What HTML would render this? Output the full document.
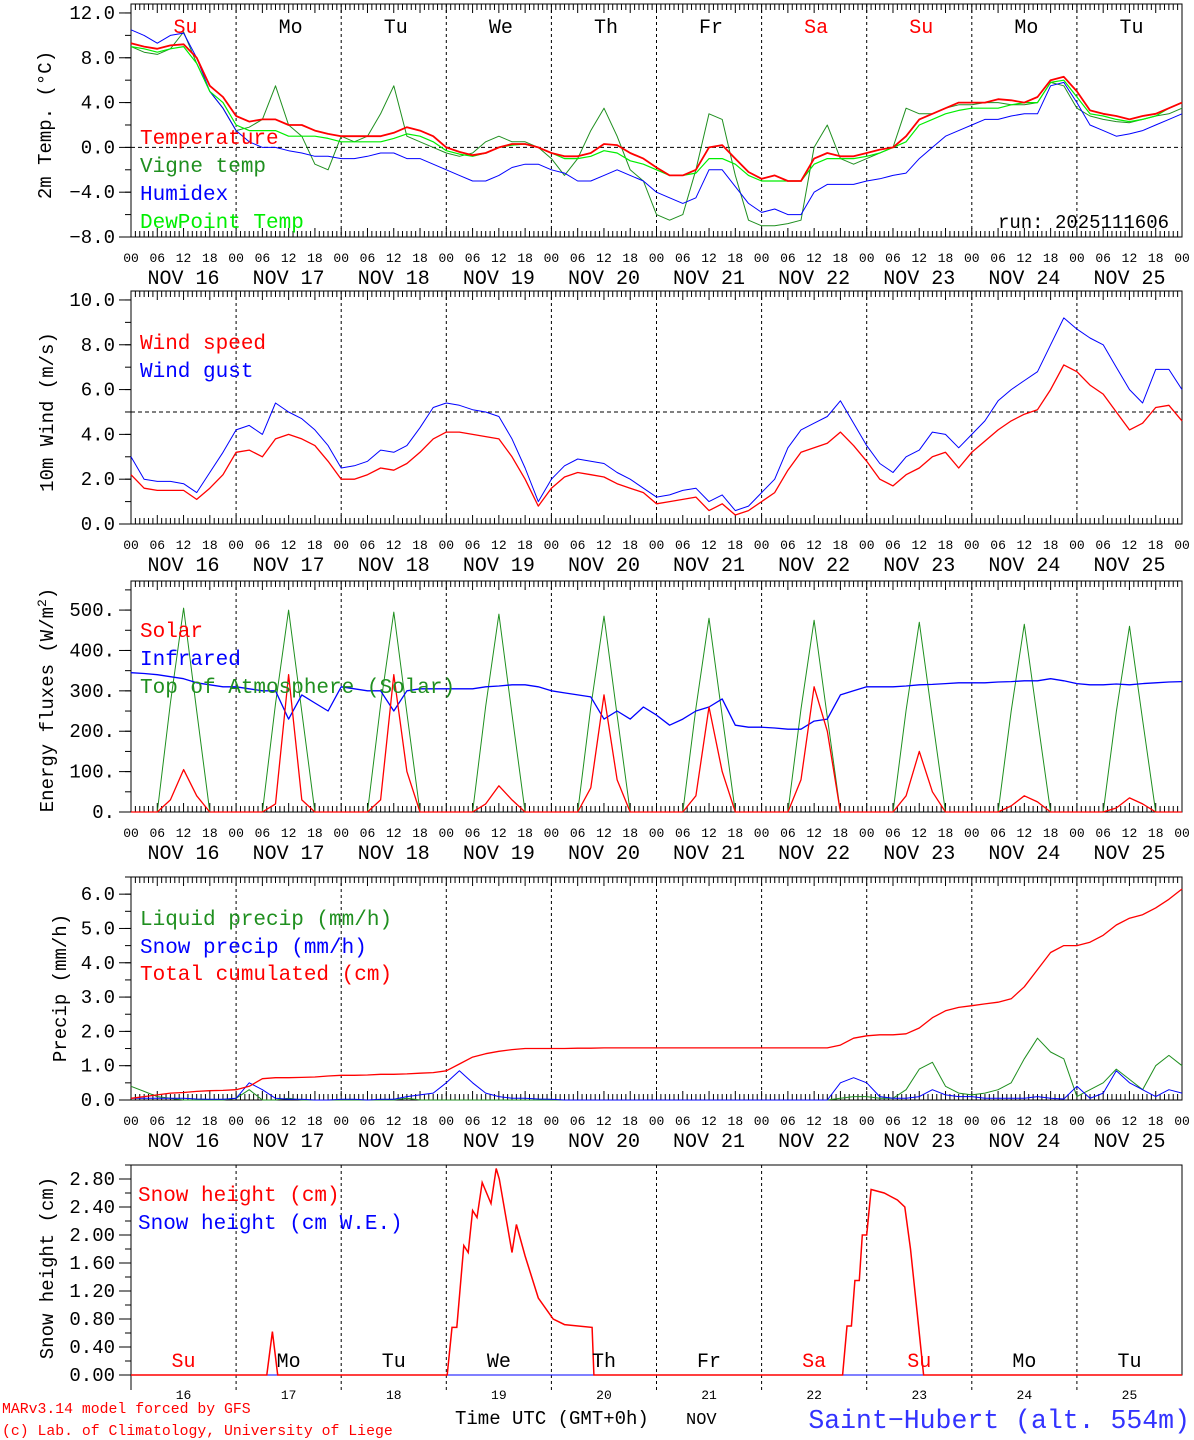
<!DOCTYPE html>
<html><head><meta charset="utf-8"><style>
html,body{margin:0;padding:0;background:#fff}
svg{display:block;font-family:"Liberation Mono","DejaVu Sans Mono",monospace}
</style></head><body>
<svg id="chart" width="1194" height="1440" viewBox="0 0 1194 1440" xmlns="http://www.w3.org/2000/svg"></svg>
<script>
// ---- data (3-hourly, 81 points from Nov 16 00UTC to Nov 26 00UTC) ----
const dayNames=["Su","Mo","Tu","We","Th","Fr","Sa","Su","Mo","Tu"];
const dayNums=["16","17","18","19","20","21","22","23","24","25"];
const hourLabels=["00","06","12","18"];
const temperature=[9.3,9.0,8.8,9.1,9.2,8.0,5.5,4.5, 2.8,2.3,2.5,2.5,2.0,2.0,1.5,1.2, 1.0,1.0,1.0,1.0,1.3,1.8,1.5,1.0, 0.0,-0.4,-0.7,-0.5,0.0,0.3,0.3,0.0, -0.5,-0.8,-0.8,-0.5,0.3,0.2,-0.5,-1.0, -1.8,-2.5,-2.5,-2.0,0.0,0.2,-1.0,-2.2, -2.8,-2.5,-3.0,-3.0,-1.0,-0.5,-0.8,-0.8, -0.5,-0.2,0.0,1.0,2.5,3.0,3.5,4.0, 4.0,4.0,4.3,4.2,4.0,4.5,6.0,6.3, 5.0,3.3,3.0,2.8,2.5,2.8,3.0,3.5, 4.0];
const vigneTemp=[9.0,8.5,8.3,8.8,10.3,7.5,5.0,3.5, 1.5,1.8,2.5,5.5,2.0,1.0,-1.5,-2.0, 1.0,0.5,1.0,3.0,5.5,1.0,0.5,0.0, -0.5,-0.8,-0.5,0.5,1.0,0.5,0.5,0.0, -1.0,-2.5,-1.0,1.5,3.5,1.0,-2.0,-3.0, -6.0,-6.5,-6.0,-2.0,3.0,2.5,-2.5,-6.5, -7.0,-7.0,-6.8,-6.5,0.0,2.0,-1.0,-1.5, -1.0,-0.5,0.0,3.5,3.0,3.0,3.5,3.8, 3.8,4.0,4.0,3.8,3.8,4.0,5.8,5.5, 3.5,2.8,2.5,2.3,2.2,2.5,2.8,3.0, 3.5];
const humidex=[10.5,10.0,9.3,10.0,10.2,8.0,5.0,3.5, 1.5,0.5,0.0,0.0,-0.3,-0.5,-0.8,-0.8, -1.0,-1.0,-0.8,-0.5,-0.5,-1.0,-1.0,-1.5, -2.0,-2.5,-3.0,-3.0,-2.5,-1.8,-1.5,-1.5, -2.0,-2.3,-3.0,-3.0,-2.5,-2.0,-2.5,-3.0, -4.0,-4.5,-5.0,-4.5,-2.0,-2.0,-3.5,-5.0, -5.8,-5.5,-6.0,-6.0,-4.0,-3.3,-3.3,-3.3, -3.0,-2.8,-2.5,-2.3,-1.0,0.0,1.0,1.5, 2.0,2.5,2.5,2.8,3.0,3.0,5.5,5.8, 4.0,2.0,1.5,1.0,1.2,1.5,2.0,2.5, 3.0];
const dewPoint=[9.0,8.8,8.5,8.8,9.0,7.5,5.0,4.0, 2.0,1.5,1.5,1.5,1.0,1.0,1.0,0.8, 0.5,0.5,0.5,0.5,0.8,1.2,1.0,0.5, -0.3,-0.6,-0.8,-0.5,0.0,0.2,0.3,0.0, -0.5,-1.0,-1.0,-0.8,-0.3,-0.5,-1.2,-1.5, -2.0,-2.5,-2.5,-2.3,-1.0,-1.0,-1.5,-2.5, -3.0,-3.0,-3.0,-3.0,-1.5,-1.0,-1.0,-1.0, -0.8,-0.5,0.0,0.5,2.0,2.5,3.0,3.3, 3.5,3.5,3.5,3.8,4.0,4.0,5.8,6.0, 4.5,3.0,2.8,2.5,2.3,2.5,2.8,3.5, 4.0];
const windSpeed=[2.2,1.6,1.5,1.5,1.5,1.1,1.6,2.2, 3.2,3.3,3.0,3.8,4.0,3.8,3.5,2.8, 2.0,2.0,2.2,2.5,2.4,2.7,3.2,3.8, 4.1,4.1,4.0,3.9,3.8,3.0,2.0,0.8, 1.6,2.1,2.3,2.2,2.1,1.8,1.6,1.4, 0.9,1.0,1.1,1.2,0.6,0.9,0.4,0.6, 1.0,1.4,2.4,3.2,3.4,3.6,4.1,3.5, 2.8,2.0,1.7,2.2,2.5,3.0,3.2,2.5, 3.2,3.7,4.2,4.6,4.9,5.1,6.0,7.1, 6.8,6.2,5.8,5.0,4.2,4.5,5.2,5.3, 4.6];
const windGust=[3.0,2.0,1.9,1.9,1.8,1.4,2.3,3.2, 4.2,4.4,4.0,5.4,5.0,4.7,4.2,3.5, 2.5,2.6,2.8,3.3,3.2,3.5,4.3,5.2, 5.4,5.3,5.1,5.0,4.8,3.8,2.5,1.0, 2.0,2.6,2.9,2.8,2.7,2.3,2.0,1.6, 1.2,1.3,1.5,1.6,1.0,1.3,0.6,0.8, 1.4,2.0,3.4,4.2,4.5,4.8,5.5,4.5, 3.5,2.7,2.3,3.0,3.3,4.1,4.0,3.4, 4.0,4.6,5.5,6.0,6.4,6.8,8.0,9.2, 8.7,8.3,8.0,7.0,6.0,5.4,6.9,6.9, 6.0];
const solar=[0,0,0,30,105,40,0,0, 0,0,0,20,340,30,0,0, 0,0,0,30,340,100,0,0, 0,0,0,20,65,30,0,0, 0,0,0,60,290,80,0,0, 0,0,0,40,260,100,0,0, 0,0,0,80,310,200,0,0, 0,0,0,40,150,50,0,0, 0,0,0,15,40,25,0,0, 0,0,0,10,35,20,0,0, 0];
const infrared=[345,343,340,335,330,320,315,310, 310,305,300,300,230,290,270,250, 310,305,300,300,250,300,305,305, 305,305,305,310,312,315,315,310, 300,295,290,285,230,250,230,260, 240,215,230,250,260,280,215,210, 210,208,205,205,225,230,290,300, 310,310,310,312,315,316,318,320, 320,320,322,323,325,325,330,325, 318,315,315,317,315,318,320,322, 323];
const toaSolar=[0,0,0,270,505,250,0,0, 0,0,0,268,500,248,0,0, 0,0,0,265,495,245,0,0, 0,0,0,262,490,242,0,0, 0,0,0,260,485,240,0,0, 0,0,0,257,480,238,0,0, 0,0,0,255,475,235,0,0, 0,0,0,252,470,232,0,0, 0,0,0,250,465,230,0,0, 0,0,0,248,460,228,0,0, 0];
const liquidPrecip=[0.4,0.25,0.1,0.05,0,0,0,0, 0.05,0.3,0,0,0.05,0,0,0, 0,0,0,0,0,0.05,0,0, 0,0,0,0,0,0,0,0, 0,0,0,0,0,0,0,0, 0,0,0,0,0,0,0,0, 0,0,0,0,0,0,0.05,0.1, 0.1,0.05,0.05,0.3,0.9,1.1,0.4,0.2, 0.15,0.2,0.3,0.5,1.2,1.8,1.4,1.2, 0.1,0.3,0.5,0.9,0.6,0.3,1.0,1.3, 1.0];
const snowPrecip=[0.05,0.05,0.05,0.05,0.05,0.03,0.02,0.02, 0.05,0.5,0.3,0.05,0.02,0.02,0,0, 0.02,0.02,0,0.02,0.02,0.1,0.15,0.2, 0.5,0.85,0.5,0.2,0.1,0.05,0.05,0.03, 0.02,0,0,0,0,0,0,0, 0,0,0,0,0,0,0,0, 0,0,0,0,0,0,0.5,0.65, 0.5,0.1,0.05,0.05,0.1,0.3,0.15,0.1, 0.1,0.05,0.05,0.05,0.05,0.1,0.05,0.03, 0.4,0.05,0.2,0.85,0.5,0.3,0.1,0.3, 0.2];
const totalCumul=[0.05,0.1,0.15,0.2,0.22,0.25,0.27,0.28, 0.3,0.4,0.62,0.65,0.65,0.66,0.67,0.7, 0.72,0.72,0.73,0.75,0.75,0.76,0.78,0.8, 0.85,1.05,1.25,1.35,1.42,1.47,1.5,1.5, 1.5,1.5,1.51,1.51,1.52,1.52,1.52,1.52, 1.52,1.52,1.52,1.52,1.52,1.52,1.52,1.52, 1.52,1.52,1.52,1.52,1.52,1.52,1.6,1.8, 1.87,1.9,1.9,1.93,2.1,2.4,2.6,2.7, 2.75,2.8,2.85,2.95,3.3,3.8,4.3,4.5, 4.5,4.6,4.8,5.1,5.3,5.4,5.6,5.85, 6.15];
const snowTimes=[0,31,32.3,33.5,72.2,73.3,74.4,76,77,78,79,80.2,82.2,83.4,84.1,87,88,90,93,96.4,99,105.3,105.7,162.5,163.5,164.5,165.3,166.3,167,168,169,172,175,176.7,178,179.5,181,240];
const snowHeight=[0,0,0.62,0,0,0.68,0.68,1.85,1.75,2.35,2.25,2.75,2.45,2.95,2.8,1.75,2.15,1.7,1.1,0.8,0.72,0.68,0,0,0.7,0.7,1.35,1.35,2.0,2.0,2.65,2.6,2.5,2.4,1.8,0.9,0,0];
const p1Ticks=[12,8,4,0,-4,-8], p1TickLabels=["12.0","8.0","4.0","0.0","\u22124.0","\u22128.0"];
const p2Ticks=[10,8,6,4,2,0], p2TickLabels=["10.0","8.0","6.0","4.0","2.0","0.0"];
const p3Ticks=[500,400,300,200,100,0], p3TickLabels=["500.","400.","300.","200.","100.","0."];
const p4Ticks=[6,5,4,3,2,1,0], p4TickLabels=["6.0","5.0","4.0","3.0","2.0","1.0","0.0"];
const p5Ticks=[2.8,2.4,2.0,1.6,1.2,0.8,0.4,0], p5TickLabels=["2.80","2.40","2.00","1.60","1.20","0.80","0.40","0.00"];

// ---- drawing ----
const NS="http://www.w3.org/2000/svg";
const svg=document.getElementById('chart');
const X0=131,X1=1182;
function xT(t){return X0+t*(X1-X0)/240;}
function el(tag,attrs,parent){const e=document.createElementNS(NS,tag);for(const k in attrs)e.setAttribute(k,attrs[k]);(parent||svg).appendChild(e);return e;}
function txt(s,x,y,size,color,anchor,parent){const e=el('text',{x:x,y:y,'font-size':size,fill:color||'#000','text-anchor':anchor||'start'},parent);e.textContent=s;return e;}

function panel(name,top,bottom,vmin,vmax,ticks,labels,minorStep,showHours){
  const g=el('g',{});
  
  
  const yv=v=>bottom-(v-vmin)*(bottom-top)/(vmax-vmin);
  const fr=el('rect',{x:X0,y:top,width:X1-X0,height:bottom-top,fill:'none',stroke:'#000','stroke-width':1},g);
  
  
  for(let d=1;d<10;d++){const l=el('line',{x1:xT(d*24),x2:xT(d*24),y1:top,y2:bottom,stroke:'#000','stroke-dasharray':'3,3','stroke-width':1},g);
    
    }
  if(showHours){for(let h=0;h<=240;h++){const len=(h%6===0)?9:6;const x=xT(h);
    el('line',{x1:x,x2:x,y1:top,y2:top+len,stroke:'#000','stroke-width':1},g);
    el('line',{x1:x,x2:x,y1:bottom,y2:bottom-len,stroke:'#000','stroke-width':1},g);}}
  const yax=el('g',{},g);
  
  
  for(let v=vmin;v<=vmax+1e-9;v+=minorStep){const y=yv(v);el('line',{x1:X0-6,x2:X0,y1:y,y2:y,stroke:'#000'},yax);}
  ticks.forEach((v,i)=>{const y=yv(v);el('line',{x1:X0-12,x2:X0,y1:y,y2:y,stroke:'#000'},yax);
    const t=txt(labels[i],X0-16,y+6,19,'#000','end',yax);
    
    });
  if(showHours){
    const xa=el('g',{},g);
    
    
    for(let h=0;h<=240;h+=6){txt(hourLabels[(h/6)%4],xT(h),bottom+25,13,'#000','middle',xa);}
    for(let d=0;d<10;d++){txt('NOV '+dayNums[d],xT(d*24+12),bottom+47,20,'#000','middle',xa);}
  }
  return {g:g,yv:yv};
}
function series(p,vals,color,name,w){
  const pts=vals.map((v,i)=>xT(i*3).toFixed(1)+','+p.yv(v).toFixed(1)).join(' ');
  const l=el('polyline',{points:pts,fill:'none',stroke:color,'stroke-width':w||1.2,'stroke-linejoin':'round'},p.g);
  
  
}
function legend(p,s,x,y,color,name){const t=txt(s,x,y,21,color,'start',p.g);
  
  }
function ytitle(s,x,y,name){const t=el('text',{x:0,y:0,'font-size':19,fill:'#000','text-anchor':'middle',transform:'translate('+x+','+y+') rotate(-90)'});t.textContent=s;
  
  }

const RED='#ff0000',GREEN='#1f8f1f',BLUE='#0000ff',LGREEN='#00ee00';

const p1=panel('temperature',4,237,-8,12.8,p1Ticks,p1TickLabels,2,true);
el('line',{x1:X0,x2:X1,y1:p1.yv(0),y2:p1.yv(0),stroke:'#000','stroke-dasharray':'4,3'},p1.g);
series(p1,vigneTemp,GREEN,'vigne-temp-line',1);
series(p1,humidex,BLUE,'humidex-line',1);
series(p1,dewPoint,LGREEN,'dewpoint-line',1.2);
series(p1,temperature,RED,'temperature-line',1.8);
dayNames.forEach((d,i)=>{const red=(i===0||i===6||i===7);txt(d,xT(i*24+12)+2,33,20,red?RED:'#000','middle',p1.g);});
legend(p1,'Temperature',140,144,RED,'legend-temperature');
legend(p1,'Vigne temp',140,172,GREEN,'legend-vigne-temp');
legend(p1,'Humidex',140,200,BLUE,'legend-humidex');
legend(p1,'DewPoint Temp',140,228,LGREEN,'legend-dewpoint');
txt('run: 2025111606',1169,228,19,'#000','end',p1.g);
ytitle('2m Temp. (\u00b0C)',51,125,'temperature-y-title');

const p2=panel('wind',291,524,0,10.4,p2Ticks,p2TickLabels,1,true);
el('line',{x1:X0,x2:X1,y1:p2.yv(5),y2:p2.yv(5),stroke:'#000','stroke-dasharray':'4,3'},p2.g);
series(p2,windGust,BLUE,'wind-gust-line',1);
series(p2,windSpeed,RED,'wind-speed-line',1.3);
legend(p2,'Wind speed',140,349,RED,'legend-wind-speed');
legend(p2,'Wind gust',140,377,BLUE,'legend-wind-gust');
ytitle('10m Wind (m/s)',53,412,'wind-y-title');

const p3=panel('energy',581,812,0,572,p3Ticks,p3TickLabels,50,true);
series(p3,toaSolar,GREEN,'toa-solar-line',1);
series(p3,infrared,BLUE,'infrared-line',1.3);
series(p3,solar,RED,'solar-line',1.3);
legend(p3,'Solar',140,637,RED,'legend-solar');
legend(p3,'Infrared',140,665,BLUE,'legend-infrared');
legend(p3,'Top of Atmosphere (Solar)',140,693,GREEN,'legend-toa-solar');
(function(){const t=el('text',{x:0,y:0,'font-size':19,fill:'#000','text-anchor':'middle',transform:'translate(53,700) rotate(-90)'});


t.innerHTML='Energy fluxes (W/m<tspan dy="-7" font-size="13">2</tspan><tspan dy="7">)</tspan>';})();

const p4=panel('precip',877,1100,0,6.5,p4Ticks,p4TickLabels,0.5,true);
series(p4,liquidPrecip,GREEN,'liquid-precip-line',1);
series(p4,snowPrecip,BLUE,'snow-precip-line',1);
series(p4,totalCumul,RED,'total-cumulated-line',1.3);
legend(p4,'Liquid precip (mm/h)',140,925,GREEN,'legend-liquid-precip');
legend(p4,'Snow precip (mm/h)',140,953,BLUE,'legend-snow-precip');
legend(p4,'Total cumulated (cm)',140,980,RED,'legend-total-cumulated');
ytitle('Precip (mm/h)',66,988,'precip-y-title');

const p5=panel('snow',1165,1375,0,3.0,p5Ticks,p5TickLabels,0.2,false);
for(let d=1;d<10;d++){el('line',{x1:xT(d*24),x2:xT(d*24),y1:1375,y2:1390,stroke:'#000','stroke-dasharray':'3,3'},p5.g);}
el('line',{x1:X0,x2:X0,y1:1375,y2:1390,stroke:'#000'},p5.g);
(function(){const l=el('line',{x1:X0,x2:X1,y1:1375,y2:1375,stroke:BLUE,'stroke-width':1},p5.g);


const pts=snowTimes.map((t,i)=>xT(t).toFixed(1)+','+p5.yv(snowHeight[i]).toFixed(1)).join(' ');
const s=el('polyline',{points:pts,fill:'none',stroke:RED,'stroke-width':1.5},p5.g);

})();
dayNames.forEach((d,i)=>{const red=(i===0||i===6||i===7);txt(d,xT(i*24+12),1367,20,red?RED:'#000','middle',p5.g);});
dayNums.forEach((d,i)=>{txt(d,xT(i*24+12),1399,13,'#000','middle',p5.g);});
legend(p5,'Snow height (cm)',138,1201,RED,'legend-snow-height');
legend(p5,'Snow height (cm W.E.)',138,1229,BLUE,'legend-snow-height-we');
ytitle('Snow height (cm)',53,1268,'snow-y-title');

txt('Time UTC (GMT+0h)',455,1424,19,'#000','start');
txt('NOV',686,1424,17,'#000','start');
txt('MARv3.14 model forced by GFS',2,1413,14.8,RED,'start');
txt('(c) Lab. of Climatology, University of Liege',2,1435,14.8,RED,'start');
(function(){const t=txt('Saint\u2212Hubert (alt. 554m)',1190,1428,26.5,'#3333ff','end');

})();
</script>
</body></html>
